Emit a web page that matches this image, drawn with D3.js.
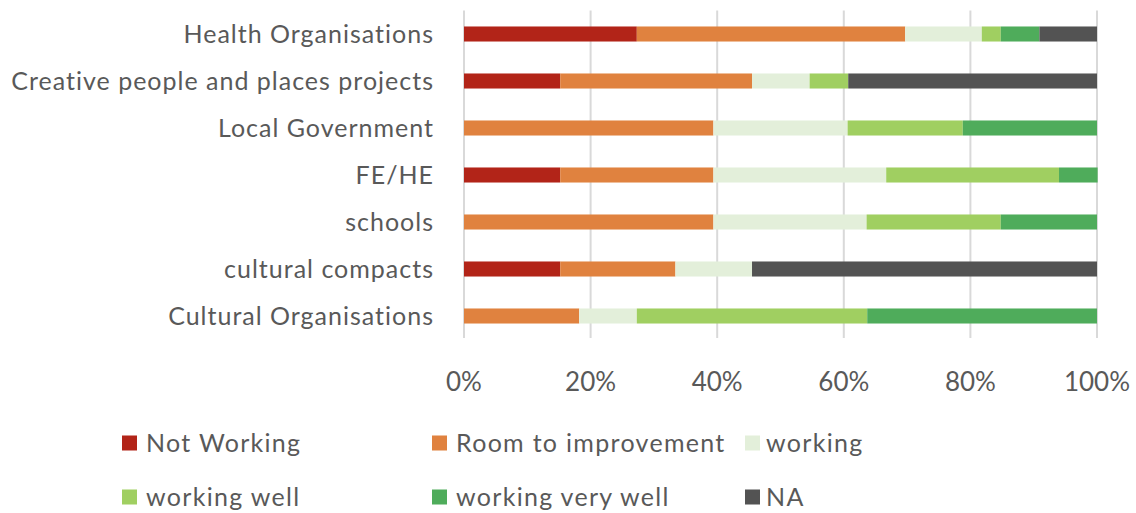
<!DOCTYPE html>
<html>
<head>
<meta charset="utf-8">
<script src="https://cdn.jsdelivr.net/npm/d3@7"></script>
<style>
  body { margin: 0; background: #fff; }
  text { font-family: Lato, "Liberation Sans", sans-serif; fill: #595959; }
</style>
</head>
<body>
<div class="chart"></div>
<script>
// categories, top to bottom
var categories = ["Health Organisations", "Creative people and places projects", "Local Government",
  "FE/HE", "schools", "cultural compacts", "Cultural Organisations"];

var seriesNames = ["Not Working", "Room to improvement", "working", "working well", "working very well", "NA"];
var seriesColors = ["#b22418", "#e0823f", "#e3efda", "#a0cf61", "#4fac5b", "#535353"];

// percentage of responses, one array per series (same order as categories)
var notWorking      = [27.3, 15.2, 0,    15.2, 0,    15.2, 0];
var roomToImprove   = [42.4, 30.3, 39.4, 24.2, 39.4, 18.2, 18.2];
var working         = [12.1, 9.1,  21.2, 27.3, 24.2, 12.1, 9.1];
var workingWell     = [3.0,  6.1,  18.2, 27.3, 21.2, 0,    36.4];
var workingVeryWell = [6.1,  0,    21.2, 6.1,  15.2, 0,    36.3];
var notApplicable   = [9.1,  39.3, 0,    0,    0,    54.5, 0];

var tickValues = [0, 20, 40, 60, 80, 100];

var svgWidth = 1136, svgHeight = 513;

var svg = d3.select(".chart")
  .append("svg")
  .attr("width", svgWidth)
  .attr("height", svgHeight);

// build rows for the stack layout
var seriesData = [notWorking, roomToImprove, working, workingWell, workingVeryWell, notApplicable];
var rows = categories.map(function(c, i) {
  var row = { category: c };
  seriesNames.forEach(function(s, j) { row[s] = seriesData[j][i]; });
  return row;
});

var stacked = d3.stack().keys(seriesNames)(rows);

var x = d3.scaleLinear().domain([0, 100]).range([464, 1097]);
var y = d3.scaleBand().domain(categories).range([10.5, 339.5]).paddingInner(0.68).paddingOuter(0.34);

// gridlines
svg.append("g")
  .selectAll("line")
  .data(tickValues)
  .enter().append("line")
    .attr("x1", function(d) { return x(d); })
    .attr("x2", function(d) { return x(d); })
    .attr("y1", 10.5)
    .attr("y2", 338)
    .attr("stroke", "#d9d9d9")
    .attr("stroke-width", 2);

// stacked bars
svg.append("g")
  .selectAll("g")
  .data(stacked)
  .enter().append("g")
    .attr("fill", function(d, i) { return seriesColors[i]; })
  .selectAll("rect")
  .data(function(d) { return d; })
  .enter().append("rect")
    .attr("x", function(d) { return x(d[0]); })
    .attr("width", function(d) { return Math.max(0, x(d[1]) - x(d[0])); })
    .attr("y", function(d) { return y(d.data.category); })
    .attr("height", y.bandwidth());

// category labels
svg.append("g")
  .selectAll("text")
  .data(categories)
  .enter().append("text")
    .attr("x", 434)
    .attr("y", function(d) { return y(d) + y.bandwidth() / 2; })
    .attr("dy", "0.35em")
    .attr("text-anchor", "end")
    .style("font-size", "25px")
    .style("letter-spacing", "1px")
    .text(function(d) { return d; });

// x axis tick labels
svg.append("g")
  .selectAll("text")
  .data(tickValues)
  .enter().append("text")
    .attr("x", function(d) { return x(d); })
    .attr("y", 382)
    .attr("dy", "0.35em")
    .attr("text-anchor", "middle")
    .style("font-size", "26px")
    .text(function(d) { return d + "%"; });

// legend, two rows of three
var legendX = [122, 432, 745];
var legendY = [443, 497];

var legend = svg.append("g")
  .selectAll("g")
  .data(seriesNames)
  .enter().append("g")
    .attr("transform", function(d, i) {
      return "translate(" + legendX[i % 3] + "," + legendY[Math.floor(i / 3)] + ")";
    });

legend.append("rect")
  .attr("x", 0)
  .attr("y", -7.5)
  .attr("width", 15)
  .attr("height", 15)
  .attr("fill", function(d, i) { return seriesColors[i]; });

legend.append("text")
  .attr("x", function(d, i) { return i % 3 === 2 ? 21 : 24; })
  .attr("y", 0)
  .attr("dy", "0.35em")
  .style("font-size", "25px")
  .style("letter-spacing", "1.3px")
  .text(function(d) { return d; });
</script>
</body>
</html>
